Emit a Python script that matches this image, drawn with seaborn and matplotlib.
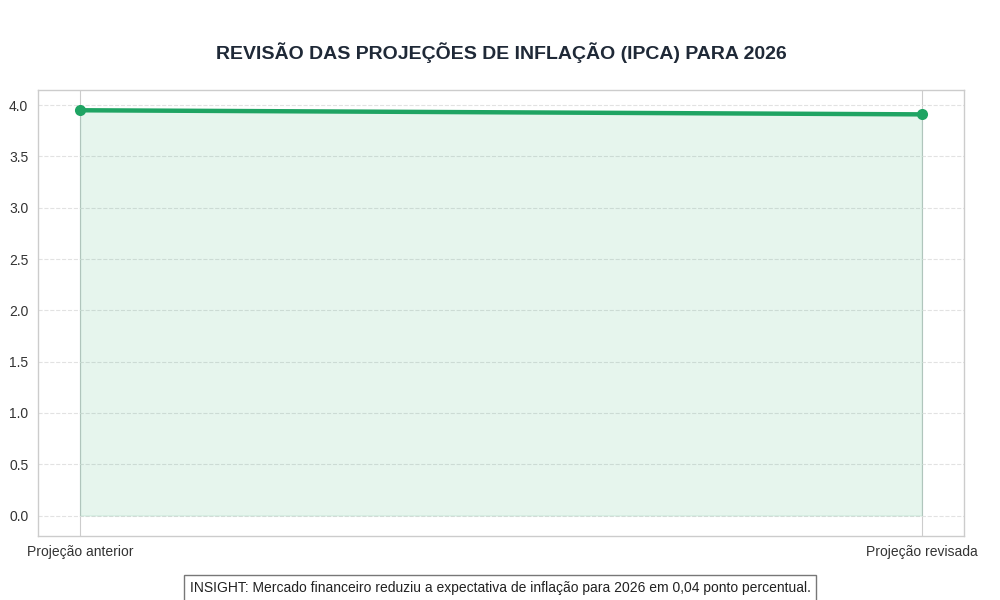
import matplotlib
matplotlib.use("Agg")
import matplotlib.pyplot as plt
import seaborn as sns
import pandas as pd

# dados
etapas = ["Projeção anterior", "Projeção revisada"]
ipca_2026 = [3.95, 3.91]

titulo = "REVISÃO DAS PROJEÇÕES DE INFLAÇÃO (IPCA) PARA 2026"
insight = "INSIGHT: Mercado financeiro reduziu a expectativa de inflação para 2026 em 0,04 ponto percentual."

cor = "#1fa463"

sns.set_style("whitegrid")
plt.rcParams["font.family"] = ["Liberation Sans", "DejaVu Sans"]

df = pd.DataFrame({"etapa": etapas, "ipca": ipca_2026})
df["pos"] = range(len(df))

fig, ax = plt.subplots(figsize=(10, 6), dpi=100)

ax.fill_between(df["pos"], df["ipca"], 0, color=cor, alpha=0.11, zorder=1)
sns.lineplot(data=df, x="pos", y="ipca", ax=ax, color=cor, linewidth=3.2,
             marker="o", markersize=8, markeredgewidth=0, zorder=3)

ax.set_xticks(df["pos"])
ax.set_xticklabels(df["etapa"], fontsize=10, color="#333333")
ax.tick_params(axis="x", pad=3)
ax.tick_params(axis="y", labelsize=10, labelcolor="#333333")
ax.set_xlabel("")
ax.set_ylabel("")

ax.grid(axis="y", linestyle="--", color="#e2e2e2", linewidth=0.8)
ax.grid(axis="x", linestyle="-", color="#cccccc", linewidth=0.8)
ax.set_axisbelow(True)
for s in ax.spines.values():
    s.set_color("#cccccc")
    s.set_linewidth(1.0)

ax.set_title(titulo, fontsize=14, fontweight="bold", color="#1f2937", pad=22)

fig.text(0.5, 0.02, insight, ha="center", va="center", fontsize=10, color="#222222",
         bbox=dict(boxstyle="square,pad=0.4", facecolor="white", edgecolor="#777777"))

plt.subplots_adjust(left=0.038, right=0.964, top=0.85, bottom=0.107)
plt.savefig("out.png", dpi=100)
plt.close()
